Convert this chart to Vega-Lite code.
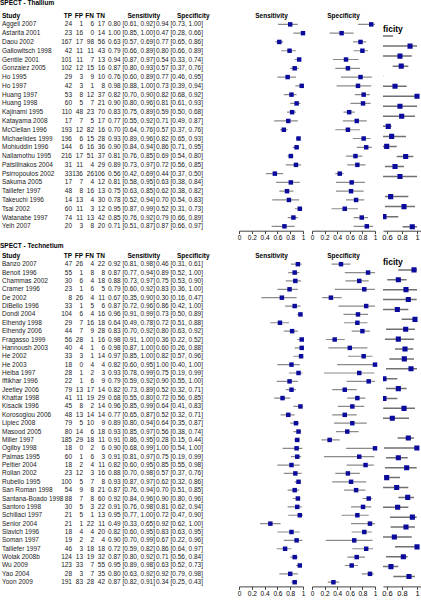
{
"$schema": "https://vega.github.io/schema/vega-lite/v6.json",
"padding": 0,
"background": "white",
"config": {
  "view": {"stroke": null},
  "font": "Liberation Sans",
  "text": {"font": "Liberation Sans", "fontSize": 6.5, "color": "#1a1a1a", "baseline": "middle"},
  "title": {"font": "Liberation Sans", "fontSize": 6.5, "fontWeight": "bold", "color": "#000", "offset": 1, "frame": "group"},
  "axis": {"labelFont": "Liberation Sans", "labelFontSize": 6.5, "labelColor": "#000", "domainColor": "#444", "tickColor": "#444", "tickSize": 3, "labelPadding": 1, "grid": false, "labelOverlap": false, "labelFlush": false}
},
"datasets": {
  "thal": [
    {"study":"Aggeli 2007","tp":24,"fp":1,"fn":6,"tn":17,"sens":0.80,"sl":0.61,"sh":0.92,"spec":0.94,"pl":0.73,"ph":1.00},
    {"study":"Astarita 2001","tp":23,"fp":16,"fn":0,"tn":14,"sens":1.00,"sl":0.85,"sh":1.00,"spec":0.47,"pl":0.28,"ph":0.66},
    {"study":"Daou 2002","tp":167,"fp":17,"fn":98,"tn":56,"sens":0.63,"sl":0.57,"sh":0.69,"spec":0.77,"pl":0.65,"ph":0.86},
    {"study":"Gallowitsch 1998","tp":42,"fp":11,"fn":11,"tn":43,"sens":0.79,"sl":0.66,"sh":0.89,"spec":0.80,"pl":0.66,"ph":0.89},
    {"study":"Gentile 2001","tp":101,"fp":11,"fn":7,"tn":13,"sens":0.94,"sl":0.87,"sh":0.97,"spec":0.54,"pl":0.33,"ph":0.74},
    {"study":"Gonzalez 2005","tp":102,"fp":12,"fn":15,"tn":16,"sens":0.87,"sl":0.80,"sh":0.93,"spec":0.57,"pl":0.37,"ph":0.76},
    {"study":"Ho 1995","tp":29,"fp":3,"fn":9,"tn":10,"sens":0.76,"sl":0.60,"sh":0.89,"spec":0.77,"pl":0.46,"ph":0.95},
    {"study":"Ho 1997","tp":42,"fp":3,"fn":1,"tn":8,"sens":0.98,"sl":0.88,"sh":1.00,"spec":0.73,"pl":0.39,"ph":0.94},
    {"study":"Huang 1997","tp":53,"fp":8,"fn":12,"tn":37,"sens":0.82,"sl":0.70,"sh":0.90,"spec":0.82,"pl":0.68,"ph":0.92},
    {"study":"Huang 1998","tp":60,"fp":5,"fn":7,"tn":21,"sens":0.90,"sl":0.80,"sh":0.96,"spec":0.81,"pl":0.61,"ph":0.93},
    {"study":"Kajinami 1995","tp":110,"fp":48,"fn":23,"tn":70,"sens":0.83,"sl":0.75,"sh":0.89,"spec":0.59,"pl":0.50,"ph":0.68},
    {"study":"Katayama 2008","tp":17,"fp":7,"fn":5,"tn":17,"sens":0.77,"sl":0.55,"sh":0.92,"spec":0.71,"pl":0.49,"ph":0.87},
    {"study":"McClellan 1996","tp":193,"fp":12,"fn":82,"tn":16,"sens":0.70,"sl":0.64,"sh":0.76,"spec":0.57,"pl":0.37,"ph":0.76},
    {"study":"Michaelides 1999","tp":196,"fp":6,"fn":15,"tn":28,"sens":0.93,"sl":0.89,"sh":0.96,"spec":0.82,"pl":0.65,"ph":0.93},
    {"study":"Mohiuddin 1996","tp":144,"fp":6,"fn":16,"tn":36,"sens":0.90,"sl":0.84,"sh":0.94,"spec":0.86,"pl":0.71,"ph":0.95},
    {"study":"Nallamothu 1995","tp":216,"fp":17,"fn":51,"tn":37,"sens":0.81,"sl":0.76,"sh":0.85,"spec":0.69,"pl":0.54,"ph":0.80},
    {"study":"Patsilinakos 2004","tp":31,"fp":11,"fn":4,"tn":29,"sens":0.89,"sl":0.73,"sh":0.97,"spec":0.72,"pl":0.56,"ph":0.85},
    {"study":"Psirropoulos 2002","tp":33,"fp":136,"fn":26,"tn":106,"sens":0.56,"sl":0.42,"sh":0.69,"spec":0.44,"pl":0.37,"ph":0.50},
    {"study":"Sakuma 2005","tp":17,"fp":7,"fn":4,"tn":12,"sens":0.81,"sl":0.58,"sh":0.95,"spec":0.63,"pl":0.38,"ph":0.84},
    {"study":"Taillefer 1997","tp":48,"fp":8,"fn":16,"tn":13,"sens":0.75,"sl":0.63,"sh":0.85,"spec":0.62,"pl":0.38,"ph":0.82},
    {"study":"Takeuchi 1996","tp":14,"fp":13,"fn":4,"tn":30,"sens":0.78,"sl":0.52,"sh":0.94,"spec":0.70,"pl":0.54,"ph":0.83},
    {"study":"Tsai 2002","tp":60,"fp":11,"fn":3,"tn":12,"sens":0.95,"sl":0.87,"sh":0.99,"spec":0.52,"pl":0.31,"ph":0.73},
    {"study":"Watanabe 1997","tp":74,"fp":11,"fn":13,"tn":42,"sens":0.85,"sl":0.76,"sh":0.92,"spec":0.79,"pl":0.66,"ph":0.89},
    {"study":"Yeih 2007","tp":20,"fp":3,"fn":8,"tn":20,"sens":0.71,"sl":0.51,"sh":0.87,"spec":0.87,"pl":0.66,"ph":0.97}
  ],
  "tech": [
    {"study":"Banzo 2007","tp":47,"fp":26,"fn":4,"tn":22,"sens":0.92,"sl":0.81,"sh":0.98,"spec":0.46,"pl":0.31,"ph":0.61},
    {"study":"Benoit 1996","tp":55,"fp":1,"fn":8,"tn":8,"sens":0.87,"sl":0.77,"sh":0.94,"spec":0.89,"pl":0.52,"ph":1.00},
    {"study":"Chammas 2002","tp":30,"fp":6,"fn":4,"tn":18,"sens":0.88,"sl":0.73,"sh":0.97,"spec":0.75,"pl":0.53,"ph":0.90},
    {"study":"Cramer 1996","tp":23,"fp":1,"fn":6,"tn":5,"sens":0.79,"sl":0.60,"sh":0.92,"spec":0.83,"pl":0.36,"ph":1.00},
    {"study":"De 2002","tp":8,"fp":26,"fn":4,"tn":11,"sens":0.67,"sl":0.35,"sh":0.90,"spec":0.30,"pl":0.16,"ph":0.47},
    {"study":"DiBello 1996","tp":33,"fp":1,"fn":5,"tn":6,"sens":0.87,"sl":0.72,"sh":0.96,"spec":0.86,"pl":0.42,"ph":1.00},
    {"study":"Dondi 2004","tp":104,"fp":6,"fn":4,"tn":16,"sens":0.96,"sl":0.91,"sh":0.99,"spec":0.73,"pl":0.50,"ph":0.89},
    {"study":"Elhendy 1998","tp":29,"fp":7,"fn":16,"tn":18,"sens":0.64,"sl":0.49,"sh":0.78,"spec":0.72,"pl":0.51,"ph":0.88},
    {"study":"Elhendy 2006","tp":44,"fp":7,"fn":9,"tn":28,"sens":0.83,"sl":0.70,"sh":0.92,"spec":0.80,"pl":0.63,"ph":0.92},
    {"study":"Fragasso 1999","tp":56,"fp":28,"fn":1,"tn":16,"sens":0.98,"sl":0.91,"sh":1.00,"spec":0.36,"pl":0.22,"ph":0.52},
    {"study":"Hannoush 2003","tp":40,"fp":4,"fn":1,"tn":6,"sens":0.98,"sl":0.87,"sh":1.00,"spec":0.60,"pl":0.26,"ph":0.88},
    {"study":"He 2002","tp":33,"fp":3,"fn":1,"tn":14,"sens":0.97,"sl":0.85,"sh":1.00,"spec":0.82,"pl":0.57,"ph":0.96},
    {"study":"He 2003","tp":18,"fp":0,"fn":4,"tn":4,"sens":0.82,"sl":0.60,"sh":0.95,"spec":1.00,"pl":0.40,"ph":1.00},
    {"study":"Heiba 1997","tp":28,"fp":1,"fn":2,"tn":3,"sens":0.93,"sl":0.78,"sh":0.99,"spec":0.75,"pl":0.19,"ph":0.99},
    {"study":"Iftikhar 1996","tp":22,"fp":1,"fn":6,"tn":9,"sens":0.79,"sl":0.59,"sh":0.92,"spec":0.90,"pl":0.55,"ph":1.00},
    {"study":"Jeetley 2006","tp":79,"fp":13,"fn":17,"tn":14,"sens":0.82,"sl":0.73,"sh":0.89,"spec":0.52,"pl":0.32,"ph":0.71},
    {"study":"Khattar 1998","tp":41,"fp":11,"fn":19,"tn":29,"sens":0.68,"sl":0.55,"sh":0.80,"spec":0.72,"pl":0.56,"ph":0.85},
    {"study":"Kisacik 1996","tp":45,"fp":8,"fn":2,"tn":14,"sens":0.96,"sl":0.85,"sh":0.99,"spec":0.64,"pl":0.41,"ph":0.83},
    {"study":"Korosoglou 2006","tp":48,"fp":13,"fn":14,"tn":14,"sens":0.77,"sl":0.65,"sh":0.87,"spec":0.52,"pl":0.32,"ph":0.71},
    {"study":"Lipiec 2008","tp":79,"fp":5,"fn":10,"tn":9,"sens":0.89,"sl":0.80,"sh":0.94,"spec":0.64,"pl":0.35,"ph":0.87},
    {"study":"Masood 2005","tp":80,"fp":14,"fn":6,"tn":18,"sens":0.93,"sl":0.85,"sh":0.97,"spec":0.56,"pl":0.38,"ph":0.74},
    {"study":"Miller 1997","tp":185,"fp":29,"fn":18,"tn":11,"sens":0.91,"sl":0.86,"sh":0.95,"spec":0.28,"pl":0.15,"ph":0.44},
    {"study":"Ogilby 1998","tp":18,"fp":0,"fn":2,"tn":6,"sens":0.90,"sl":0.68,"sh":0.99,"spec":1.00,"pl":0.54,"ph":1.00},
    {"study":"Palmas 1995","tp":60,"fp":1,"fn":6,"tn":3,"sens":0.91,"sl":0.81,"sh":0.97,"spec":0.75,"pl":0.19,"ph":0.99},
    {"study":"Peltier 2004","tp":18,"fp":2,"fn":4,"tn":11,"sens":0.82,"sl":0.60,"sh":0.95,"spec":0.85,"pl":0.55,"ph":0.98},
    {"study":"Rollan 2002","tp":23,"fp":12,"fn":3,"tn":16,"sens":0.88,"sl":0.70,"sh":0.98,"spec":0.57,"pl":0.37,"ph":0.76},
    {"study":"Rubello 1995","tp":100,"fp":5,"fn":7,"tn":8,"sens":0.93,"sl":0.87,"sh":0.97,"spec":0.62,"pl":0.32,"ph":0.86},
    {"study":"San Roman 1998","tp":54,"fp":9,"fn":8,"tn":21,"sens":0.87,"sl":0.76,"sh":0.94,"spec":0.70,"pl":0.51,"ph":0.85},
    {"study":"Santana-Boado 1998","tp":88,"fp":7,"fn":8,"tn":60,"sens":0.92,"sl":0.84,"sh":0.96,"spec":0.90,"pl":0.80,"ph":0.96},
    {"study":"Santoro 1998","tp":30,"fp":5,"fn":3,"tn":22,"sens":0.91,"sl":0.76,"sh":0.98,"spec":0.81,"pl":0.62,"ph":0.94},
    {"study":"Schillaci 1997","tp":21,"fp":5,"fn":1,"tn":13,"sens":0.95,"sl":0.77,"sh":1.00,"spec":0.72,"pl":0.47,"ph":0.90},
    {"study":"Senior 2004","tp":21,"fp":1,"fn":22,"tn":11,"sens":0.49,"sl":0.33,"sh":0.65,"spec":0.92,"pl":0.62,"ph":1.00},
    {"study":"Slavich 1996","tp":18,"fp":4,"fn":4,"tn":20,"sens":0.82,"sl":0.60,"sh":0.95,"spec":0.83,"pl":0.63,"ph":0.95},
    {"study":"Soman 1997","tp":19,"fp":2,"fn":2,"tn":4,"sens":0.90,"sl":0.70,"sh":0.99,"spec":0.67,"pl":0.22,"ph":0.96},
    {"study":"Taillefer 1997","tp":46,"fp":3,"fn":18,"tn":18,"sens":0.72,"sl":0.59,"sh":0.82,"spec":0.86,"pl":0.64,"ph":0.97},
    {"study":"Wolak 2008b","tp":124,"fp":13,"fn":19,"tn":32,"sens":0.87,"sl":0.80,"sh":0.92,"spec":0.71,"pl":0.56,"ph":0.84},
    {"study":"Wu 2009","tp":123,"fp":33,"fn":7,"tn":55,"sens":0.95,"sl":0.89,"sh":0.98,"spec":0.63,"pl":0.52,"ph":0.73},
    {"study":"Yao 2004","tp":28,"fp":3,"fn":7,"tn":35,"sens":0.80,"sl":0.63,"sh":0.92,"spec":0.92,"pl":0.79,"ph":0.98},
    {"study":"Yoon 2009","tp":191,"fp":83,"fn":28,"tn":42,"sens":0.87,"sl":0.82,"sh":0.91,"spec":0.34,"pl":0.25,"ph":0.43}
  ],
  "p3a": [
    {"r":0,"est":0.45,"lo":0.30,"hi":0.68},{"r":1,"est":0.907,"lo":0.45,"hi":1.0},{"r":2,"est":0.773,"lo":0.45,"hi":0.93},
    {"r":3,"est":0.79,"lo":0.676,"hi":0.884},{"r":4,"est":0.40,"lo":0.25,"hi":0.55},{"r":5,"est":0.707,"lo":0.45,"hi":0.863},
    {"r":6,"est":1.0,"lo":0.45,"hi":1.0},{"r":7,"est":0.773,"lo":0.45,"hi":1.0},{"r":8,"est":0.796,"lo":0.45,"hi":0.973},
    {"r":9,"est":0.617,"lo":0.53,"hi":0.66},{"r":10,"est":0.662,"lo":0.50,"hi":0.853},{"r":11,"est":0.596,"lo":0.50,"hi":0.73},
    {"r":12,"est":0.849,"lo":0.73,"hi":0.95},{"r":13,"est":0.707,"lo":0.573,"hi":0.827},{"r":14,"est":0.773,"lo":0.45,"hi":1.0},
    {"r":15,"est":0.40,"lo":0.30,"hi":0.52},{"r":16,"est":0.649,"lo":0.573,"hi":0.884},{"r":17,"est":0.827,"lo":0.573,"hi":0.973},
    {"r":18,"est":0.56,"lo":0.45,"hi":0.75},{"r":19,"est":0.937,"lo":0.809,"hi":1.0}
  ],
  "p3b": [
    {"r":0,"est":0.96,"lo":0.751,"hi":1.0},{"r":1,"est":0.751,"lo":0.604,"hi":0.862},{"r":2,"est":0.853,"lo":0.45,"hi":1.0},
    {"r":3,"est":0.884,"lo":0.45,"hi":0.996},{"r":4,"est":0.738,"lo":0.45,"hi":0.884},{"r":5,"est":0.973,"lo":0.796,"hi":1.0},
    {"r":6,"est":0.849,"lo":0.587,"hi":0.973},{"r":7,"est":0.751,"lo":0.573,"hi":0.96},{"r":8,"est":0.84,"lo":0.707,"hi":0.951},
    {"r":9,"est":0.831,"lo":0.631,"hi":0.96},{"r":10,"est":0.92,"lo":0.587,"hi":1.0},{"r":11,"est":0.56,"lo":0.45,"hi":0.737},
    {"r":12,"est":0.751,"lo":0.587,"hi":0.862},{"r":13,"est":0.56,"lo":0.45,"hi":0.737},{"r":14,"est":0.827,"lo":0.55,"hi":0.973},
    {"r":15,"est":0.671,"lo":0.45,"hi":0.893},{"r":16,"est":0.40,"lo":0.30,"hi":0.52},{"r":17,"est":0.884,"lo":0.742,"hi":0.96},
    {"r":18,"est":0.998,"lo":0.56,"hi":1.0},{"r":19,"est":0.751,"lo":0.587,"hi":0.876},{"r":20,"est":0.862,"lo":0.573,"hi":0.996},
    {"r":21,"est":0.596,"lo":0.56,"hi":0.773},{"r":22,"est":0.729,"lo":0.45,"hi":0.884},{"r":23,"est":0.876,"lo":0.751,"hi":0.96},
    {"r":24,"est":0.742,"lo":0.45,"hi":0.884},{"r":25,"est":0.938,"lo":0.64,"hi":0.996},{"r":26,"est":0.853,"lo":0.649,"hi":0.973},
    {"r":27,"est":0.698,"lo":0.45,"hi":0.93},{"r":28,"est":1.0,"lo":0.707,"hi":1.0},{"r":29,"est":0.818,"lo":0.587,"hi":0.876},
    {"r":30,"est":0.653,"lo":0.45,"hi":0.751},{"r":31,"est":0.893,"lo":0.684,"hi":0.973}
  ]
},
"vconcat": [
  {
    "title": {"text": "SPECT - Thallium", "anchor": "start", "offset": 6, "fontSize": 6.5},
    "spacing": 0,
    "bounds": "flush",
    "hconcat": [
      {"width": 40, "height": 210.7, "data": {"name": "thal"}, "title": {"text": "Study", "anchor": "start", "dx": 2},
       "mark": {"type": "text", "align": "left", "dx": 2},
       "encoding": {"x": {"value": 0}, "y": {"field": "study", "type": "nominal", "sort": null, "axis": null}, "text": {"field": "study"}}},
      {"width": 32, "height": 210.7, "data": {"name": "thal"}, "title": {"text": "TP", "anchor": "end"},
       "mark": {"type": "text", "align": "right"},
       "encoding": {"x": {"value": "width"}, "y": {"field": "study", "type": "nominal", "sort": null, "axis": null}, "text": {"field": "tp"}}},
      {"width": 11, "height": 210.7, "data": {"name": "thal"}, "title": {"text": "FP", "anchor": "end"},
       "mark": {"type": "text", "align": "right"},
       "encoding": {"x": {"value": "width"}, "y": {"field": "study", "type": "nominal", "sort": null, "axis": null}, "text": {"field": "fp"}}},
      {"width": 11, "height": 210.7, "data": {"name": "thal"}, "title": {"text": "FN", "anchor": "end"},
       "mark": {"type": "text", "align": "right"},
       "encoding": {"x": {"value": "width"}, "y": {"field": "study", "type": "nominal", "sort": null, "axis": null}, "text": {"field": "fn"}}},
      {"width": 11, "height": 210.7, "data": {"name": "thal"}, "title": {"text": "TN", "anchor": "end"},
       "mark": {"type": "text", "align": "right"},
       "encoding": {"x": {"value": "width"}, "y": {"field": "study", "type": "nominal", "sort": null, "axis": null}, "text": {"field": "tn"}}},
      {"width": 49, "height": 210.7, "data": {"name": "thal"}, "title": {"text": "Sensitivity", "anchor": "end", "dx": 6},
       "transform": [{"calculate": "format(datum.sens,'.2f') + ' [' + format(datum.sl,'.2f') + ', ' + format(datum.sh,'.2f') + ']'", "as": "st"}],
       "mark": {"type": "text", "align": "left", "dx": 3},
       "encoding": {"x": {"value": 0}, "y": {"field": "study", "type": "nominal", "sort": null, "axis": null}, "text": {"field": "st"}}},
      {"width": 85, "height": 210.7, "data": {"name": "thal"}, "title": {"text": "Specificity", "anchor": "start", "dx": 23},
       "transform": [{"calculate": "format(datum.spec,'.2f') + ' [' + format(datum.pl,'.2f') + ', ' + format(datum.ph,'.2f') + ']'", "as": "pt"}],
       "mark": {"type": "text", "align": "left", "dx": 2},
       "encoding": {"x": {"value": 0}, "y": {"field": "study", "type": "nominal", "sort": null, "axis": null}, "text": {"field": "pt"}}},
      {"width": 73, "height": 210.7, "data": {"name": "thal"}, "title": {"text": "Sensitivity", "anchor": "middle", "dx": -4},
       "layer": [
         {"mark": {"type": "rule", "color": "#8a8a8a", "strokeWidth": 1.2, "clip": true},
          "encoding": {"y": {"field": "study", "type": "nominal", "sort": null, "axis": null},
            "x": {"field": "sl", "type": "quantitative", "scale": {"domain": [0, 1], "range": [0, 64], "nice": false, "zero": false}, "axis": {"values": [0, 0.2, 0.4, 0.6, 0.8, 1], "format": "~g", "title": null}},
            "x2": {"field": "sh"}}},
         {"mark": {"type": "square", "color": "#0a0a9c", "size": 20, "opacity": 1},
          "encoding": {"y": {"field": "study", "type": "nominal", "sort": null, "axis": null},
            "x": {"field": "sens", "type": "quantitative", "scale": {"domain": [0, 1], "range": [0, 64], "nice": false, "zero": false}, "axis": {"values": [0, 0.2, 0.4, 0.6, 0.8, 1], "format": "~g", "title": null}}}}
       ]},
      {"width": 71, "height": 210.7, "data": {"name": "thal"}, "title": {"text": "Specificity", "anchor": "middle", "dx": -4},
       "layer": [
         {"mark": {"type": "rule", "color": "#8a8a8a", "strokeWidth": 1.2, "clip": true},
          "encoding": {"y": {"field": "study", "type": "nominal", "sort": null, "axis": null},
            "x": {"field": "pl", "type": "quantitative", "scale": {"domain": [0, 1], "range": [0, 63], "nice": false, "zero": false}, "axis": {"values": [0, 0.2, 0.4, 0.6, 0.8, 1], "format": "~g", "title": null}},
            "x2": {"field": "ph"}}},
         {"mark": {"type": "square", "color": "#0a0a9c", "size": 20, "opacity": 1},
          "encoding": {"y": {"field": "study", "type": "nominal", "sort": null, "axis": null},
            "x": {"field": "spec", "type": "quantitative", "scale": {"domain": [0, 1], "range": [0, 63], "nice": false, "zero": false}, "axis": {"values": [0, 0.2, 0.4, 0.6, 0.8, 1], "format": "~g", "title": null}}}}
       ]},
      {"width": 38, "height": 210.7, "data": {"name": "p3a"}, "title": {"text": "ficity", "anchor": "start", "fontSize": 8.5, "dy": 14},
       "layer": [
         {"mark": {"type": "rule", "color": "#707070", "strokeWidth": 1.5, "clip": true},
          "encoding": {"y": {"field": "r", "type": "ordinal", "axis": null, "scale": {"type": "point", "padding": 1.277, "align": 0.8}},
            "x": {"field": "lo", "type": "quantitative", "scale": {"domain": [0.547, 1.053], "nice": false, "zero": false}, "axis": {"values": [0.6, 0.8, 1], "format": "~g", "title": null, "labelFontSize": 7.5, "tickSize": 3, "labelPadding": 0}},
            "x2": {"field": "hi"}}},
         {"mark": {"type": "square", "color": "#0a0a9c", "size": 26, "opacity": 1, "clip": true},
          "encoding": {"y": {"field": "r", "type": "ordinal", "axis": null, "scale": {"type": "point", "padding": 1.277, "align": 0.8}},
            "x": {"field": "est", "type": "quantitative", "scale": {"domain": [0.547, 1.053], "nice": false, "zero": false}, "axis": {"values": [0.6, 0.8, 1], "format": "~g", "title": null, "labelFontSize": 7.5, "tickSize": 3, "labelPadding": 0}}}}
       ]}
    ]
  },
  {
    "title": {"text": "SPECT - Technetium", "anchor": "start", "offset": 3, "fontSize": 6.5},
    "spacing": 0,
    "bounds": "flush",
    "hconcat": [
      {"width": 40, "height": 326.4, "data": {"name": "tech"}, "title": {"text": "Study", "anchor": "start", "dx": 2},
       "mark": {"type": "text", "align": "left", "dx": 2},
       "encoding": {"x": {"value": 0}, "y": {"field": "study", "type": "nominal", "sort": null, "axis": null}, "text": {"field": "study"}}},
      {"width": 32, "height": 326.4, "data": {"name": "tech"}, "title": {"text": "TP", "anchor": "end"},
       "mark": {"type": "text", "align": "right"},
       "encoding": {"x": {"value": "width"}, "y": {"field": "study", "type": "nominal", "sort": null, "axis": null}, "text": {"field": "tp"}}},
      {"width": 11, "height": 326.4, "data": {"name": "tech"}, "title": {"text": "FP", "anchor": "end"},
       "mark": {"type": "text", "align": "right"},
       "encoding": {"x": {"value": "width"}, "y": {"field": "study", "type": "nominal", "sort": null, "axis": null}, "text": {"field": "fp"}}},
      {"width": 11, "height": 326.4, "data": {"name": "tech"}, "title": {"text": "FN", "anchor": "end"},
       "mark": {"type": "text", "align": "right"},
       "encoding": {"x": {"value": "width"}, "y": {"field": "study", "type": "nominal", "sort": null, "axis": null}, "text": {"field": "fn"}}},
      {"width": 11, "height": 326.4, "data": {"name": "tech"}, "title": {"text": "TN", "anchor": "end"},
       "mark": {"type": "text", "align": "right"},
       "encoding": {"x": {"value": "width"}, "y": {"field": "study", "type": "nominal", "sort": null, "axis": null}, "text": {"field": "tn"}}},
      {"width": 49, "height": 326.4, "data": {"name": "tech"}, "title": {"text": "Sensitivity", "anchor": "end", "dx": 6},
       "transform": [{"calculate": "format(datum.sens,'.2f') + ' [' + format(datum.sl,'.2f') + ', ' + format(datum.sh,'.2f') + ']'", "as": "st"}],
       "mark": {"type": "text", "align": "left", "dx": 3},
       "encoding": {"x": {"value": 0}, "y": {"field": "study", "type": "nominal", "sort": null, "axis": null}, "text": {"field": "st"}}},
      {"width": 85, "height": 326.4, "data": {"name": "tech"}, "title": {"text": "Specificity", "anchor": "start", "dx": 23},
       "transform": [{"calculate": "format(datum.spec,'.2f') + ' [' + format(datum.pl,'.2f') + ', ' + format(datum.ph,'.2f') + ']'", "as": "pt"}],
       "mark": {"type": "text", "align": "left", "dx": 2},
       "encoding": {"x": {"value": 0}, "y": {"field": "study", "type": "nominal", "sort": null, "axis": null}, "text": {"field": "pt"}}},
      {"width": 73, "height": 326.4, "data": {"name": "tech"}, "title": {"text": "Sensitivity", "anchor": "middle", "dx": -4},
       "layer": [
         {"mark": {"type": "rule", "color": "#8a8a8a", "strokeWidth": 1.2, "clip": true},
          "encoding": {"y": {"field": "study", "type": "nominal", "sort": null, "axis": null},
            "x": {"field": "sl", "type": "quantitative", "scale": {"domain": [0, 1], "range": [0, 64], "nice": false, "zero": false}, "axis": {"values": [0, 0.2, 0.4, 0.6, 0.8, 1], "format": "~g", "title": null}},
            "x2": {"field": "sh"}}},
         {"mark": {"type": "square", "color": "#0a0a9c", "size": 20, "opacity": 1},
          "encoding": {"y": {"field": "study", "type": "nominal", "sort": null, "axis": null},
            "x": {"field": "sens", "type": "quantitative", "scale": {"domain": [0, 1], "range": [0, 64], "nice": false, "zero": false}, "axis": {"values": [0, 0.2, 0.4, 0.6, 0.8, 1], "format": "~g", "title": null}}}}
       ]},
      {"width": 71, "height": 326.4, "data": {"name": "tech"}, "title": {"text": "Specificity", "anchor": "middle", "dx": -4},
       "layer": [
         {"mark": {"type": "rule", "color": "#8a8a8a", "strokeWidth": 1.2, "clip": true},
          "encoding": {"y": {"field": "study", "type": "nominal", "sort": null, "axis": null},
            "x": {"field": "pl", "type": "quantitative", "scale": {"domain": [0, 1], "range": [0, 63], "nice": false, "zero": false}, "axis": {"values": [0, 0.2, 0.4, 0.6, 0.8, 1], "format": "~g", "title": null}},
            "x2": {"field": "ph"}}},
         {"mark": {"type": "square", "color": "#0a0a9c", "size": 20, "opacity": 1},
          "encoding": {"y": {"field": "study", "type": "nominal", "sort": null, "axis": null},
            "x": {"field": "spec", "type": "quantitative", "scale": {"domain": [0, 1], "range": [0, 63], "nice": false, "zero": false}, "axis": {"values": [0, 0.2, 0.4, 0.6, 0.8, 1], "format": "~g", "title": null}}}}
       ]},
      {"width": 38, "height": 326.4, "data": {"name": "p3b"}, "title": {"text": "ficity", "anchor": "start", "fontSize": 8.5, "dy": 7},
       "layer": [
         {"mark": {"type": "rule", "color": "#707070", "strokeWidth": 1.5, "clip": true},
          "encoding": {"y": {"field": "r", "type": "ordinal", "axis": null, "scale": {"type": "point", "padding": 1.12, "align": 0.5}},
            "x": {"field": "lo", "type": "quantitative", "scale": {"domain": [0.547, 1.053], "nice": false, "zero": false}, "axis": {"values": [0.6, 0.8, 1], "format": "~g", "title": null, "labelFontSize": 7.5, "tickSize": 3, "labelPadding": 0}},
            "x2": {"field": "hi"}}},
         {"mark": {"type": "square", "color": "#0a0a9c", "size": 26, "opacity": 1, "clip": true},
          "encoding": {"y": {"field": "r", "type": "ordinal", "axis": null, "scale": {"type": "point", "padding": 1.12, "align": 0.5}},
            "x": {"field": "est", "type": "quantitative", "scale": {"domain": [0.547, 1.053], "nice": false, "zero": false}, "axis": {"values": [0.6, 0.8, 1], "format": "~g", "title": null, "labelFontSize": 7.5, "tickSize": 3, "labelPadding": 0}}}}
       ]}
    ]
  }
],
"spacing": 1,
"bounds": "full"
}
